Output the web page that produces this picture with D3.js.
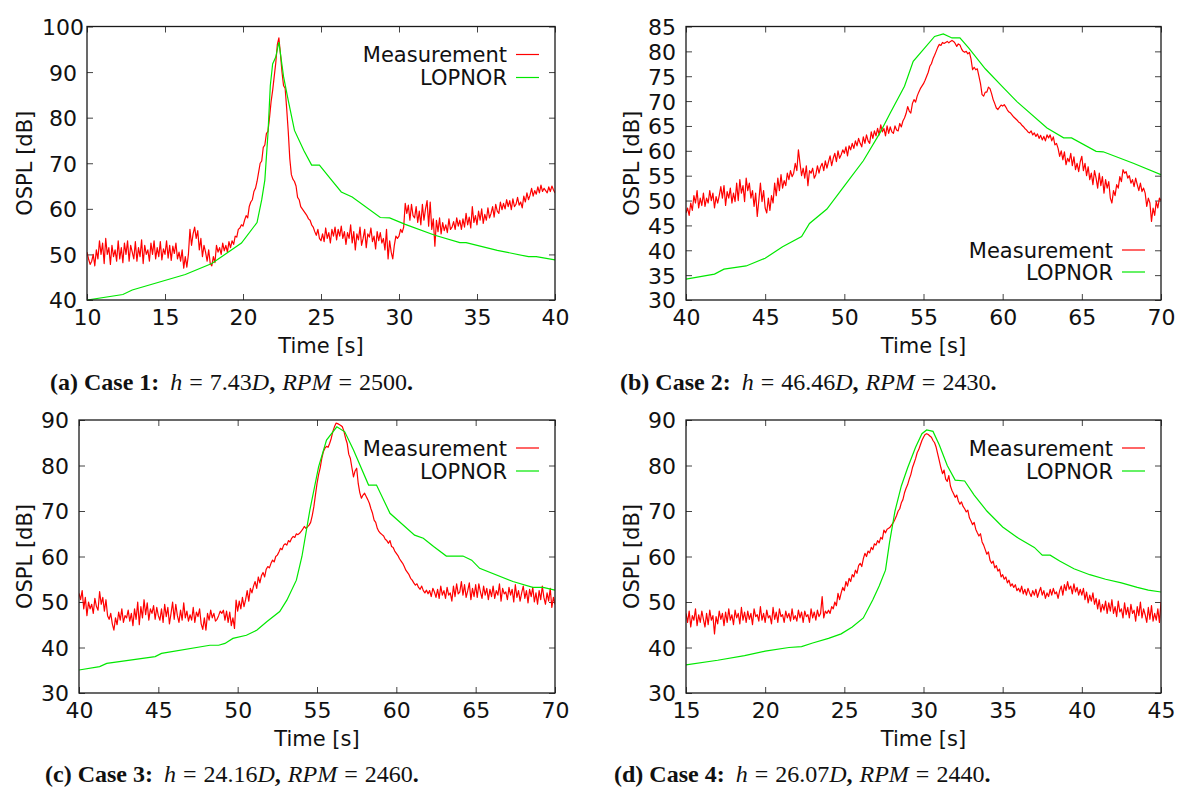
<!DOCTYPE html>
<html>
<head>
<meta charset="utf-8">
<script src="https://cdn.jsdelivr.net/npm/d3@7"></script>
<style>
body { margin: 0; background: #fff; }
svg text { font-family: "DejaVu Sans", sans-serif; fill: #111; }
.cap { font-family: "Liberation Serif", "Times New Roman", serif; font-size: 24px; }
</style>
</head>
<body>
<svg width="1181" height="788"></svg>
<script>
// sampling of the measurement records (s)
var measStep = 0.1;

// Case 1, measurement from 10 s
var measA = [
  50.5, 49, 47.8, 48.5, 50, 47.5, 51, 49, 53, 50,
  52.5, 48, 53.5, 50, 51.5, 47.8, 52, 49.5, 51, 48.5,
  53, 49, 51.5, 48.2, 52.5, 50, 53, 48.5, 52, 50.5,
  49, 52.8, 48.5, 51.5, 49.5, 53.2, 48, 52, 50, 51,
  48.5, 52.5, 50, 53, 49, 51.5, 49.5, 52.8, 48.8, 51.2,
  50, 53, 49.2, 52, 48.7, 51.8, 50.2, 52.5, 49, 50.5,
  48.5, 51, 47, 49.5, 47.2, 50, 55.5, 52, 54.5, 56,
  53.5, 55.2, 51, 53.5, 49.5, 52, 50.5, 48.5, 51, 48,
  47.5, 49.5, 48.2, 52, 50.5, 51.5, 50, 52.5, 50.8, 52,
  50.5, 52.8, 51.5, 53, 52.2, 54, 53.8, 55.5, 55.8, 56.5,
  56.2, 57.5, 58.5, 58, 60.5, 61.5, 62, 63.8, 64.5, 66,
  68, 70, 70.5, 73.5, 74, 76.5, 77, 80, 83.5, 86,
  89, 92, 96, 97.5, 94, 90, 87, 86.5, 82, 77,
  71, 67.5, 66.5, 66, 65, 62.5, 62, 60.5, 60, 59.5,
  59, 58.5, 57.8, 57.5, 56.5, 56, 55, 54.2, 55.5, 53.5,
  53, 54.5, 52.8, 55.8, 53.5, 54.8, 52.5, 55.5, 54, 56,
  53.2, 55.5, 54, 56.2, 53.5, 55, 52.2, 54.8, 53.5, 56.5,
  52.5, 55, 51, 54.5, 53.2, 56, 52, 53.5, 55.5, 51.5,
  54.5, 53.8, 55.8, 52.8, 54, 51.2, 55, 53, 54.8, 52.5,
  53.5, 51, 55.5, 49, 53, 50.5, 49, 52, 54, 53.5,
  54, 55.5, 54.8, 56, 61.2, 59, 60.8, 57.5, 61, 58.5,
  58, 60.5, 57, 59.5, 56.5, 61, 57.5, 60, 61.8, 56.2,
  61.5, 55.5, 57.8, 51.8, 57.5, 55, 58, 54.5, 57, 55.2,
  56.5, 54.8, 57.8, 55.5, 56, 57.2, 55.5, 58, 56.2, 57.5,
  55.5, 57.8, 56, 59, 56.5, 58.2, 55.8, 60.5, 57, 58.5,
  56.5, 59.5, 57.5, 60, 56.8, 58.8, 57.5, 60.2, 58, 59,
  60.5, 58.2, 61, 59.5, 59, 61.5, 59.8, 61.2, 60, 62,
  60.5, 61.8, 59.8, 62.2, 60.5, 61, 62.5, 60.8, 61.5, 60.2,
  62.8, 61.5, 63.5, 62, 63, 64.5, 62.8, 64, 63.2, 64.8,
  63.5, 65.2, 63.8, 64.5, 64, 63.5, 64.8, 63.8, 65, 64.2,
  63.5
];
var lopnorA = [
  [10, 40], [12.3, 41.2], [12.9, 42.2], [16.3, 45.6], [18, 48], [19.9, 52.5],
  [20.9, 57], [21.2, 62], [21.4, 66.3], [21.6, 76.5], [21.75, 87], [21.9, 91.8],
  [22.1, 93.3], [22.3, 96.6], [22.6, 89], [22.9, 83.8], [23.3, 77.2], [23.9, 72.8],
  [24.4, 69.6], [24.9, 69.6], [25.6, 66.6], [26.3, 63.7], [27, 62.6], [28.8, 58.1],
  [29.4, 58], [30.4, 56.6], [32.3, 54.2], [33.9, 52.6], [34.3, 52.6], [36.3, 50.9],
  [38.3, 49.5], [38.8, 49.5], [40, 48.8]
];

// Case 2, measurement from 40 s
var measB = [
  47.5, 48.5, 47, 49.5, 48, 51, 49.5, 52, 48.5, 50.5,
  49, 51.5, 48.8, 50.5, 49.5, 52, 50, 51.5, 48.5, 50.8,
  49.5, 51, 52.8, 50.5, 53, 49, 51.8, 50.5, 52.5, 49.5,
  51.5, 49.8, 53.5, 50, 54.2, 51.5, 53, 49.8, 54.5, 52,
  53.5, 50.5, 52, 48.8, 51.5, 46.8, 50, 53.5, 49.8, 52,
  48.5, 47.5, 50.5, 48, 51, 49.5, 53.5, 51, 54.5, 52,
  55.2, 52.5, 54, 53, 55.5, 54.2, 56, 54.8, 55.5, 57.5,
  56, 60.2, 57.5, 55, 56.5, 54.5, 57, 53, 56, 55.5,
  56.5, 54.5, 55.2, 57, 55.5, 56.8, 57.5, 56, 58, 56.5,
  57.8, 59, 57, 58.5, 59.5, 57.8, 60, 58.5, 59.2, 60.2,
  59.5, 60.8, 59, 61, 60.2, 61.5, 60.5, 62, 61, 62.5,
  61.5, 60.8, 62.8, 61.5, 63.2, 62, 61.5, 63.8, 62.5, 64,
  63, 64.5, 63.2, 65.2, 63.8, 64.5, 63, 65, 63.5, 64.8,
  63.8, 63.5, 65, 64.2, 64, 65.5, 64.8, 66, 66.6, 67.5,
  68.9, 68, 67.6, 69.5, 70.3, 69.8, 71, 71.8, 72.5, 73,
  73.5, 74.2, 75, 75.8, 77, 77.5, 78.5, 79.2, 80, 80.8,
  81.4, 81.2, 81.8, 81.6, 81.8, 82, 81.7, 82, 82.2, 82,
  81.6, 81, 81.5, 81.3, 80.5, 80, 79.8, 80, 79.5, 79.8,
  78.5, 76.3, 76.8, 76.3, 76.5, 75, 73.5, 71.3, 71, 71.8,
  71.8, 72.8, 72.5, 71.5, 70.3, 69.5, 68.6, 68.3, 68.8, 69.2,
  69, 69.3, 68.8, 68.2, 67.8, 67.6, 67.2, 66.8, 66.5, 66.2,
  65.8, 65.6, 65.2, 64.9, 64.5, 64.2, 63.8, 63.6, 64, 63.2,
  63.6, 62.9, 63.4, 62.5, 63.1, 62.2, 62.9, 62, 63.2, 62.6,
  63.2, 62, 62.8, 61.2, 61.5, 60.5, 58.9, 60, 58.2, 59.8,
  57.2, 58.5, 57.8, 59.5, 57, 58.8, 56.2, 57.5, 55.8, 57.8,
  58.9, 56, 57.5, 55, 56.8, 54.2, 55.5, 53.2, 56, 54.5,
  52.5, 55.5, 53, 54.8, 51.5, 54.2, 52.5, 53.8, 50.5, 49.5,
  52, 51, 53.2, 52.5, 54.8, 53.8, 56.2, 55.5, 55.8, 54.5,
  55, 53.5, 54.2, 52.8, 54.5, 53.2, 52, 53.5, 51.8, 52.5,
  51.5, 48.8, 50.5, 49.5, 45.8, 48.5, 47, 49.8, 48.5, 50.5,
  50
];
var lopnorB = [
  [40, 34.2], [41.8, 35.2], [42.4, 36.2], [43.8, 36.85], [45, 38.4], [46.1, 40.7],
  [47.3, 42.75], [47.8, 45.4], [48.9, 48.3], [50.3, 54.2], [51.2, 58], [52.25, 63.6],
  [52.9, 67.6], [53.8, 73], [54.35, 78], [55.7, 83], [56.25, 83.5], [56.8, 82.7],
  [57.3, 82.7], [57.85, 80.7], [58.9, 76.5], [59.95, 73], [60.9, 69.9], [62.8, 64.6],
  [63.85, 62.6], [64.35, 62.6], [65.9, 59.9], [66.35, 59.8], [68.25, 57.5], [70, 55.2]
];

// Case 3, measurement from 40 s
var measC = [
  51.9, 50.5, 52.5, 48.5, 51, 47, 50, 48.5, 49.5, 47.5,
  50.8, 49, 48.2, 52.3, 49.5, 51, 48, 50.5, 47, 46.2,
  47.5, 45.2, 43.8, 46.5, 45, 47.8, 46, 48.5, 45.5, 47,
  46.5, 48.2, 45.8, 47.5, 44.8, 48.5, 46.2, 50, 45, 49,
  46.5, 50.5, 47.2, 49.8, 46, 48.5, 47.5, 49.2, 46.2, 48.8,
  47, 46, 48.5, 45.5, 49.5, 46.8, 48.8, 45.2, 47.5, 50,
  46.2, 49.5, 47, 45.5, 48.2, 46, 49.8, 46.5, 48, 45.8,
  47.2, 46, 48.8, 45.5, 47.8, 46.8, 48.5, 45.2, 44, 46.5,
  43.8, 47.5, 46, 48.2, 46.5, 47.5, 45.8, 46.2, 47, 48,
  47.5, 48.2, 46, 48, 45.5, 47.8, 44.8, 46.5, 44.2, 50.4,
  48, 50.2, 48.5, 51, 49, 50.5, 52.5, 50.2, 53, 52,
  53.5, 54.5, 53, 55.5, 54.2, 55.8, 56.5, 55.5, 57.2, 57.8,
  57.5, 58.5, 59.2, 58.8, 60, 60.3, 61, 61.8, 61.5, 62.5,
  62.8, 62.5, 63.5, 63.2, 64, 64.4, 64.2, 65, 64.8, 65.1,
  65.5, 66, 66.6, 66.2, 66.5, 66.9, 67.5, 69, 70.9, 73.5,
  76, 78, 79.5, 81.5, 83, 83.8, 84.2, 84, 84.9, 86,
  87.5, 88.5, 89.3, 89.2, 89, 88.8, 88.5, 87.5, 86, 84.9,
  82.5, 81.6, 79.5, 77.5, 78.8, 79.4, 76, 74, 72.8, 73.5,
  73.9, 73.2, 72.5, 71.7, 70.5, 69.5, 68, 67.5, 66.2, 65.5,
  65.1, 64.8, 64.5, 63.8, 63.5, 62.9, 63.5, 62.2, 62, 61.2,
  60.7, 60.2, 59.5, 59, 58.5, 57.8, 57, 56.5, 56, 55.2,
  54.8, 54.2, 53.7, 54, 53.2, 52.8, 53.5, 52.5, 52, 52.6,
  51.8, 52.5, 51.2, 53, 52.2, 51, 52.8, 50.8, 53.5, 51.5,
  52.5, 50.8, 53.2, 51.5, 52, 50.2, 53.5, 51.2, 54, 51.8,
  52.2, 54.5, 51.5, 53.8, 51, 52.5, 54.2, 50.5, 53, 51.2,
  53.8, 51, 54, 52.2, 50.8, 53.5, 51.5, 53, 50.5, 52.8,
  51.2, 53.5, 50.8, 52.5, 51.5, 54, 50.2, 53, 51.8, 52.2,
  50.5, 53.2, 51.5, 52.8, 50, 53.8, 51, 52.5, 50.2, 52,
  53.5, 50.8, 52.5, 49.8, 52.8, 51.2, 53.2, 50, 52, 49.5,
  52.5, 50.5, 53.5, 51, 49.5, 52, 50.2, 53, 48.8, 51,
  49.5
];
var lopnorC = [
  [40, 35.05], [41.3, 35.8], [41.75, 36.5], [44.8, 38], [45.2, 38.7], [48.25, 40.5],
  [48.8, 40.5], [49.2, 40.9], [49.7, 42], [50.55, 42.7], [51.2, 43.8], [51.85, 45.7],
  [52.65, 47.9], [53.1, 50.4], [53.7, 54.8], [54.05, 60], [54.55, 70.2], [55.1, 79.7],
  [55.6, 85.6], [56.25, 88.5], [56.75, 87.4], [57.3, 83.4], [58.25, 75.7], [58.75, 75.7],
  [59.6, 69.5], [61.15, 64.7], [61.7, 64], [62.35, 62.2], [63.15, 60.1], [64.2, 60.1],
  [64.75, 59.2], [65.25, 57.4], [67.35, 54.5], [68.6, 53.2], [69.25, 53.2], [70, 52.6]
];

// Case 4, measurement from 15 s
var measD = [
  47.5, 45.5, 48, 44.5, 47, 46, 48.5, 44.8, 47.2, 45.5,
  48, 46.2, 44.5, 47.5, 45, 48.2, 46, 47, 43, 46.8,
  45.2, 48, 46.2, 47.5, 44.8, 47.8, 45.5, 48.5, 46, 47.2,
  45, 48.2, 46.5, 47.5, 45.2, 48.8, 46, 47.8, 45.5, 48,
  46.2, 47.5, 45, 48.5, 46.8, 47.2, 45.8, 49, 46, 47.5,
  45.5, 48.2, 46.5, 47, 45.2, 48.8, 46.2, 47.8, 45.5, 48.5,
  46.8, 47.2, 45.5, 48, 46.5, 47.5, 45.8, 48.5, 46.2, 47,
  45.8, 48.2, 46.5, 47.8, 45.5, 48, 46.8, 47.2, 45.5, 48.5,
  46.5, 47.8, 46, 48.2, 46.8, 47.5, 51.2, 46.5, 48, 47.5,
  48.2, 47.5, 49, 48.5, 50, 49.2, 51.9, 50.5, 52, 53.2,
  52.5, 54.5, 53.5, 55.2, 54.5, 56, 55.5, 57, 56.3, 58,
  58.5, 57.8, 59.5, 60.7, 60, 61.2, 60.8, 62, 61.5, 62.8,
  62.5, 63.5, 63, 64.2, 63.8, 65.8, 65.2, 66, 66.2, 66.5,
  67, 67.5, 68.2, 69, 70, 70.5, 71.8, 72.5, 74, 75,
  75.8, 77, 78, 79.5, 80.5, 81.5, 82.8, 83.5, 84.5, 85.5,
  86.2, 86.8, 87, 86.8, 86.5, 86.2, 85.5, 85, 84, 82.5,
  81, 79.5, 78.2, 79, 77, 76.5, 77.8, 75.5, 74.5, 73.8,
  73, 73.5, 72.2, 71.5, 72, 71, 70.5, 69.8, 70.2, 68.5,
  67.8, 67, 67.5, 66, 65.2, 64.5, 65, 63.2, 62.5, 61.5,
  60.5, 61, 59.2, 58.5, 59, 57.5, 58, 56.8, 57.2, 55.5,
  56, 55, 55.5, 54.2, 54.8, 53.5, 54, 53.2, 53.8, 52.5,
  53, 52.2, 53.5, 51.8, 52.8, 51.5, 53, 52, 51.2, 52.5,
  51.5, 52.8, 51, 52.2, 53.2, 51.5, 52.5, 50.8, 52, 51.2,
  52.8, 51.5, 53, 51.8, 52.2, 50.8, 52.5, 53.5, 51.5, 53.8,
  52.5, 54.5, 52.8, 53.5, 51.8, 54, 52.2, 53.2, 51.5, 52.8,
  51.5, 53, 50.5, 52.2, 49.8, 51.5, 50.2, 52, 49.5, 50.8,
  48.5, 50.5, 47.8, 49.5, 48.2, 50.2, 47.5, 49.8, 48, 50.5,
  47.5, 49, 46.8, 50.2, 47.8, 48.5, 46.5, 49.8, 47.2, 48.8,
  46.5, 49.5, 47.5, 48.2, 45.8, 49, 47, 50, 46.5, 48.5,
  47.2, 45.5, 48.8, 46.2, 49.2, 45.8, 47.5, 46, 48.5, 45.5,
  50
];
var lopnorD = [
  [15, 36.2], [17, 37.2], [18.7, 38.2], [20, 39.2], [21.5, 40], [22.3, 40.2],
  [23, 41], [24, 42], [24.8, 43], [25.5, 44.5], [26.2, 46.5], [26.8, 50.5],
  [27.2, 53.5], [27.6, 57], [27.85, 63], [28.2, 70], [28.6, 75.5], [29, 79.5],
  [29.5, 84], [29.9, 87], [30.2, 87.8], [30.6, 87.5], [31, 84.5], [31.5, 80],
  [32, 76.8], [32.6, 76.6], [33.2, 73.5], [34, 70], [35, 66.5], [36, 64],
  [37, 62], [37.5, 60.3], [38, 60.3], [38.6, 59], [39.5, 57.3], [40.5, 56],
  [41.5, 55], [42.5, 54.2], [43.5, 53.2], [44.2, 52.6], [45, 52.2]
];

// axes ranges and ticks
var measStart = [10, 40, 40, 15];
var xDomains = [[10, 40], [40, 70], [40, 70], [15, 45]];
var yDomains = [[40, 100], [30, 85], [30, 90], [30, 90]];
var yTickSteps = [10, 5, 10, 10];
var xTickStep = 5;

// captions
var panelTags = ["(a)", "(b)", "(c)", "(d)"];
var caseNames = ["Case 1:", "Case 2:", "Case 3:", "Case 4:"];
var hValues = ["7.43", "46.46", "24.16", "26.07"];
var rpmValues = ["2500", "2430", "2460", "2440"];
var seriesNames = ["Measurement", "LOPNOR"];
var xLabel = "Time [s]", yLabel = "OSPL [dB]";

var measList = [measA, measB, measC, measD];
var lopList = [lopnorA, lopnorB, lopnorC, lopnorD];

// page layout
var boxes = [
  {left: 87, right: 555, top: 26.5, bottom: 300, ylab: 32, capX: 50, capY: 390, legend: "top"},
  {left: 686, right: 1161, top: 26.5, bottom: 300, ylab: 639, capX: 620, capY: 390, legend: "bottom"},
  {left: 79, right: 555, top: 420, bottom: 693, ylab: 32, capX: 45, capY: 782, legend: "top"},
  {left: 686, right: 1161, top: 420, bottom: 693, ylab: 639, capX: 614, capY: 782, legend: "top"}
];
var colors = ["#ff0000", "#00e800"];

var svg = d3.select("svg");

boxes.forEach(function(b, k) {
  var x = d3.scaleLinear().domain(xDomains[k]).range([b.left, b.right]);
  var y = d3.scaleLinear().domain(yDomains[k]).range([b.bottom, b.top]);
  var xt = d3.range(xDomains[k][0], xDomains[k][1] + 0.01, xTickStep);
  var yt = d3.range(yDomains[k][0], yDomains[k][1] + 0.01, yTickSteps[k]);

  var g = svg.append("g");

  // inward ticks on all four sides
  var gx = g.append("g").attr("transform", "translate(0," + b.bottom + ")")
    .call(d3.axisBottom(x).tickValues(xt).tickSize(-6).tickSizeOuter(0));
  g.append("g").attr("transform", "translate(0," + b.top + ")")
    .call(d3.axisTop(x).tickValues(xt).tickSize(-6).tickSizeOuter(0).tickFormat(""));
  var gy = g.append("g").attr("transform", "translate(" + b.left + ",0)")
    .call(d3.axisLeft(y).tickValues(yt).tickSize(-6).tickSizeOuter(0));
  g.append("g").attr("transform", "translate(" + b.right + ",0)")
    .call(d3.axisRight(y).tickValues(yt).tickSize(-6).tickSizeOuter(0).tickFormat(""));

  g.selectAll(".domain").remove();
  g.selectAll(".tick line").attr("stroke", "#444").attr("stroke-width", 1);
  g.selectAll(".tick text").attr("font-size", 22).attr("font-family", "DejaVu Sans").attr("fill", "#111");
  gx.selectAll(".tick text").attr("dy", null).attr("y", 25);
  gy.selectAll(".tick text").attr("text-anchor", "middle").attr("x", -24).attr("dy", "0.36em");

  // clip + series
  var clipId = "clip" + k;
  svg.append("clipPath").attr("id", clipId).append("rect")
    .attr("x", b.left).attr("y", b.top)
    .attr("width", b.right - b.left).attr("height", b.bottom - b.top);

  var line = d3.line().x(function(d) { return x(d[0]); }).y(function(d) { return y(d[1]); });
  var meas = measList[k].map(function(v, i) { return [measStart[k] + i * measStep, v]; });

  g.append("path").datum(meas)
    .attr("clip-path", "url(#" + clipId + ")")
    .attr("fill", "none").attr("stroke", colors[0]).attr("stroke-width", 1.2)
    .attr("stroke-linejoin", "round").attr("d", line);
  g.append("path").datum(lopList[k])
    .attr("clip-path", "url(#" + clipId + ")")
    .attr("fill", "none").attr("stroke", colors[1]).attr("stroke-width", 1.2)
    .attr("d", line);

  // frame
  g.append("rect").attr("x", b.left).attr("y", b.top)
    .attr("width", b.right - b.left).attr("height", b.bottom - b.top)
    .attr("fill", "none").attr("stroke", "#1a1a1a").attr("stroke-width", 1.3);

  // legend
  var rows = b.legend === "top" ? [b.top + 28, b.top + 51] : [b.bottom - 50, b.bottom - 28];
  seriesNames.forEach(function(name, j) {
    g.append("text").attr("x", b.right - 48).attr("y", rows[j] + 7.5)
      .attr("text-anchor", "end").attr("font-size", 21).text(name);
    g.append("line").attr("x1", b.right - 39).attr("x2", b.right - 16)
      .attr("y1", rows[j]).attr("y2", rows[j])
      .attr("stroke", colors[j]).attr("stroke-width", 1.2);
  });

  // axis titles
  g.append("text").attr("x", (b.left + b.right) / 2).attr("y", b.bottom + 53)
    .attr("text-anchor", "middle").attr("font-size", 21).text(xLabel);
  g.append("text").attr("transform", "translate(" + b.ylab + "," + (b.top + b.bottom) / 2 + ") rotate(-90)")
    .attr("text-anchor", "middle").attr("font-size", 21).text(yLabel);

  // caption (math-style spacing around "=")
  var cap = svg.append("text").attr("class", "cap").attr("x", b.capX).attr("y", b.capY);
  cap.append("tspan").attr("font-weight", "bold").text(panelTags[k] + " " + caseNames[k]);
  cap.append("tspan").attr("font-style", "italic").attr("dx", 11).text("h");
  cap.append("tspan").attr("dx", 7).text("=");
  cap.append("tspan").attr("dx", 7).text(hValues[k]);
  cap.append("tspan").attr("font-style", "italic").text("D");
  cap.append("tspan").attr("font-weight", "bold").text(",");
  cap.append("tspan").attr("font-style", "italic").attr("dx", 7).text("RPM");
  cap.append("tspan").attr("dx", 7).text("=");
  cap.append("tspan").attr("dx", 7).text(rpmValues[k]);
  cap.append("tspan").attr("font-weight", "bold").text(".");
});
</script>
</body>
</html>
